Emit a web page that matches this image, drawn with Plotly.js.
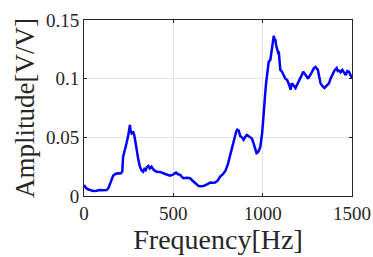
<!DOCTYPE html>
<html>
<head>
<meta charset="utf-8">
<script src="https://cdn.plot.ly/plotly-3.0.1.min.js"></script>
<style>html,body{margin:0;padding:0;background:#fff;}#chart{width:373px;height:257px;}</style>
</head>
<body>
<div id="chart"></div>
<script>
var freq = [0, 10, 22, 35, 51, 70, 88, 105, 126, 136, 144, 153, 163, 175, 191, 205, 214, 219, 228, 238, 248, 254, 257, 261, 266, 274, 281, 288, 294, 304, 313, 322, 331, 338, 345, 352, 360, 368, 378, 392, 407, 425, 444, 462, 481, 498, 515, 527, 538, 547, 556, 575, 594, 608, 622, 632, 641, 655, 669, 688, 706, 720, 734, 748, 762, 776, 790, 805, 819, 828, 837, 845, 852, 858, 865, 870, 875, 884, 893, 903, 912, 926, 940, 950, 959, 966, 972, 980, 987, 993, 997, 1002, 1006, 1013, 1019, 1027, 1034, 1043, 1048, 1053, 1058, 1062, 1067, 1071, 1076, 1081, 1086, 1090, 1095, 1099, 1108, 1118, 1127, 1137, 1146, 1152, 1156, 1163, 1171, 1178, 1184, 1193, 1202, 1214, 1227, 1236, 1246, 1252, 1258, 1267, 1277, 1287, 1296, 1303, 1309, 1316, 1324, 1335, 1346, 1358, 1371, 1380, 1390, 1402, 1414, 1420, 1427, 1436, 1446, 1455, 1465, 1474, 1483, 1492, 1500];
var amplitude = [0.0094, 0.007, 0.0057, 0.0048, 0.0043, 0.0045, 0.0051, 0.0049, 0.005, 0.0065, 0.0094, 0.0135, 0.0173, 0.0188, 0.0194, 0.0192, 0.0207, 0.0336, 0.038, 0.045, 0.052, 0.058, 0.0606, 0.055, 0.0535, 0.055, 0.052, 0.046, 0.039, 0.031, 0.025, 0.022, 0.0207, 0.023, 0.022, 0.0245, 0.0256, 0.0235, 0.025, 0.022, 0.0207, 0.0205, 0.0194, 0.0185, 0.0173, 0.0182, 0.0199, 0.0185, 0.018, 0.0165, 0.0151, 0.0155, 0.0151, 0.013, 0.0108, 0.0095, 0.0085, 0.0083, 0.0085, 0.0098, 0.0114, 0.0112, 0.0114, 0.013, 0.0165, 0.0185, 0.021, 0.027, 0.036, 0.042, 0.048, 0.052, 0.055, 0.0565, 0.056, 0.0535, 0.051, 0.05, 0.048, 0.0505, 0.052, 0.0505, 0.049, 0.0445, 0.039, 0.0365, 0.037, 0.039, 0.042, 0.047, 0.0535, 0.063, 0.0734, 0.085, 0.096, 0.106, 0.1146, 0.116, 0.121, 0.1274, 0.1345, 0.1365, 0.133, 0.133, 0.128, 0.126, 0.1225, 0.123, 0.113, 0.1075, 0.106, 0.103, 0.1, 0.099, 0.096, 0.093, 0.0905, 0.096, 0.0947, 0.0925, 0.092, 0.095, 0.0975, 0.1015, 0.106, 0.104, 0.102, 0.1005, 0.101, 0.104, 0.106, 0.109, 0.110, 0.1085, 0.1075, 0.102, 0.096, 0.0935, 0.092, 0.094, 0.096, 0.1, 0.103, 0.107, 0.109, 0.1065, 0.107, 0.1055, 0.1075, 0.105, 0.103, 0.1065, 0.106, 0.103, 0.100];
var xTicks = [0, 500, 1000, 1500];
var xTickText = ['0', '500', '1000', '1500'];
var yTicks = [0, 0.05, 0.1, 0.15];
var yTickText = ['0', '0.05', '0.1', '0.15'];

var trace = {
  x: freq, y: amplitude, type: 'scatter', mode: 'lines',
  line: {color: '#0000ff', width: 2.5}, hoverinfo: 'none'
};
var axisCommon = {
  showline: true, mirror: 'ticks', linecolor: '#262626', linewidth: 1,
  ticks: 'inside', ticklen: 3, tickcolor: '#262626',
  showgrid: true, gridcolor: '#e3e3e3', gridwidth: 1,
  zeroline: false, tickfont: {family: 'Liberation Serif', size: 19, color: '#262626'}
};
var layout = {
  width: 373, height: 257,
  margin: {l: 84, r: 21, t: 20, b: 61},
  paper_bgcolor: '#fff', plot_bgcolor: '#fff',
  showlegend: false,
  xaxis: Object.assign({}, axisCommon, {
    range: [0, 1500], tickvals: xTicks, ticktext: xTickText,
    title: {text: 'Frequency[Hz]', font: {family: 'Liberation Serif', size: 28, color: '#262626'}, standoff: 4}
  }),
  yaxis: Object.assign({}, axisCommon, {
    range: [0, 0.15], tickvals: yTicks, ticktext: yTickText,
    title: {text: 'Amplitude[V/V]', font: {family: 'Liberation Serif', size: 27, color: '#262626'}, standoff: 3}
  })
};
Plotly.newPlot('chart', [trace], layout, {staticPlot: true, displayModeBar: false});
</script>
</body>
</html>
